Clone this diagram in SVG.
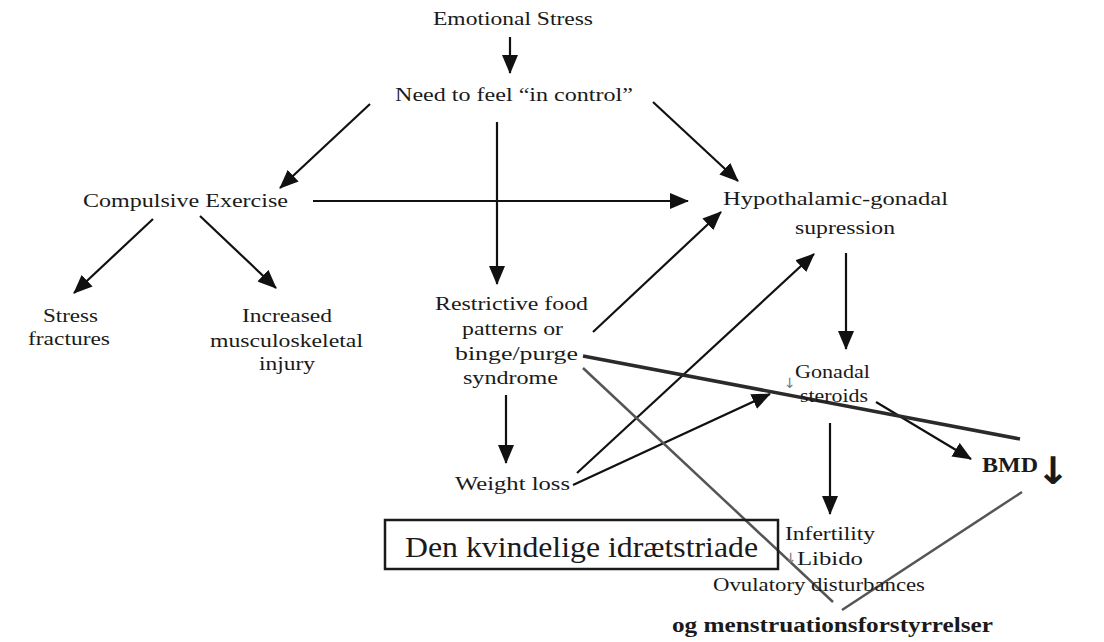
<svg xmlns="http://www.w3.org/2000/svg" width="1104" height="642" viewBox="0 0 1104 642">
<style>
  text { font-family: "Liberation Serif", "Times New Roman", serif; fill: #1a1a1a; }
  .t { font-size: 19px; }
  .s { font-size: 18px; }
  .b { font-weight: bold; }
  .sym { font-family: "DejaVu Sans", sans-serif; }
  .small { font-size: 14px; fill: #777; }
  .arr { stroke: #111; stroke-width: 2.2; fill: none; marker-end: url(#ah); }
  .thick { stroke: #2a2a2a; stroke-width: 3.5; fill: none; }
  .gray { stroke: #555; stroke-width: 2.5; fill: none; }
</style>
<defs>
  <marker id="ah" markerUnits="userSpaceOnUse" markerWidth="19" markerHeight="16" refX="18" refY="8" orient="auto">
    <path d="M0,0 L19,8 L0,16 z" fill="#111"/>
  </marker>
</defs>
<rect width="1104" height="642" fill="#ffffff"/>

<g id="connectors">
  <line class="arr" x1="510" y1="37" x2="510" y2="73"/>
  <line class="arr" x1="370" y1="104" x2="280" y2="188"/>
  <line class="arr" x1="653" y1="102" x2="738" y2="181"/>
  <line class="arr" x1="497" y1="122" x2="497" y2="284"/>
  <line class="arr" x1="313" y1="201" x2="688" y2="201"/>
  <line class="arr" x1="153" y1="219" x2="74" y2="293"/>
  <line class="arr" x1="200" y1="216" x2="276" y2="288"/>
  <line class="arr" x1="506" y1="395" x2="506" y2="463"/>
  <line class="arr" x1="593" y1="332" x2="721" y2="212"/>
  <line class="arr" x1="577" y1="473" x2="814" y2="254"/>
  <line class="arr" x1="573" y1="485" x2="770" y2="394"/>
  <line class="arr" x1="846" y1="253" x2="846" y2="349"/>
  <line class="arr" x1="830" y1="423" x2="830" y2="514"/>
  <line class="arr" x1="876" y1="402" x2="971" y2="459"/>
  <line class="thick" x1="583" y1="356" x2="1020" y2="439"/>
  <line class="gray" x1="583" y1="368" x2="833" y2="602"/>
  <line class="gray" x1="1022" y1="492" x2="842" y2="610"/>
</g>

<g id="emotional-stress"><text class="s" x="433" y="25" textLength="160" lengthAdjust="spacingAndGlyphs">Emotional Stress</text></g>
<g id="need-control"><text class="t" x="395" y="101" textLength="238" lengthAdjust="spacingAndGlyphs">Need to feel “in control”</text></g>
<g id="compulsive-exercise"><text class="t" x="83" y="207" textLength="205" lengthAdjust="spacingAndGlyphs">Compulsive Exercise</text></g>
<g id="stress-fractures">
  <text class="s" x="43" y="322" textLength="55" lengthAdjust="spacingAndGlyphs">Stress</text>
  <text class="s" x="28" y="345" textLength="82" lengthAdjust="spacingAndGlyphs">fractures</text>
</g>
<g id="musculoskeletal">
  <text class="s" x="242" y="322" textLength="90" lengthAdjust="spacingAndGlyphs">Increased</text>
  <text class="s" x="210" y="347" textLength="153" lengthAdjust="spacingAndGlyphs">musculoskeletal</text>
  <text class="s" x="259" y="370" textLength="56" lengthAdjust="spacingAndGlyphs">injury</text>
</g>
<g id="restrictive-food">
  <text class="s" x="435" y="310" textLength="153" lengthAdjust="spacingAndGlyphs">Restrictive food</text>
  <text class="s" x="462" y="335" textLength="101" lengthAdjust="spacingAndGlyphs">patterns or</text>
  <text class="s" x="455" y="360" textLength="123" lengthAdjust="spacingAndGlyphs">binge/purge</text>
  <text class="s" x="463" y="384" textLength="95" lengthAdjust="spacingAndGlyphs">syndrome</text>
</g>
<g id="weight-loss"><text class="s" x="455" y="490" textLength="115" lengthAdjust="spacingAndGlyphs">Weight loss</text></g>
<g id="hypothalamic">
  <text class="s" x="723" y="205" textLength="225" lengthAdjust="spacingAndGlyphs">Hypothalamic-gonadal</text>
  <text class="s" x="795" y="234" textLength="100" lengthAdjust="spacingAndGlyphs">supression</text>
</g>
<g id="gonadal-steroids">
  <text class="sym small" x="784" y="388">↓</text>
  <text class="s" x="795" y="378" textLength="75" lengthAdjust="spacingAndGlyphs">Gonadal</text>
  <text class="s" x="800" y="402" textLength="68" lengthAdjust="spacingAndGlyphs">steroids</text>
</g>
<g id="effects">
  <text class="s" x="785" y="540" textLength="90" lengthAdjust="spacingAndGlyphs">Infertility</text>
  <text class="sym small" x="785" y="563">↓</text>
  <text class="s" x="797" y="565" textLength="66" lengthAdjust="spacingAndGlyphs">Libido</text>
  <text class="s" x="713" y="591" textLength="212" lengthAdjust="spacingAndGlyphs">Ovulatory disturbances</text>
</g>
<g id="menstruation"><text class="b" x="672" y="632" font-size="20" textLength="321" lengthAdjust="spacingAndGlyphs">og menstruationsforstyrrelser</text></g>
<g id="bmd">
  <text class="b" x="982" y="472" font-size="21" textLength="56" lengthAdjust="spacingAndGlyphs">BMD</text>
  <text class="b sym" x="1036" y="484" font-size="38" textLength="34" lengthAdjust="spacingAndGlyphs">↓</text>
</g>
<g id="triad-box">
  <rect x="385" y="520" width="393" height="49" fill="none" stroke="#1a1a1a" stroke-width="2.5"/>
  <text x="405" y="557" font-size="30" textLength="353" lengthAdjust="spacingAndGlyphs">Den kvindelige idrætstriade</text>
</g>
</svg>
